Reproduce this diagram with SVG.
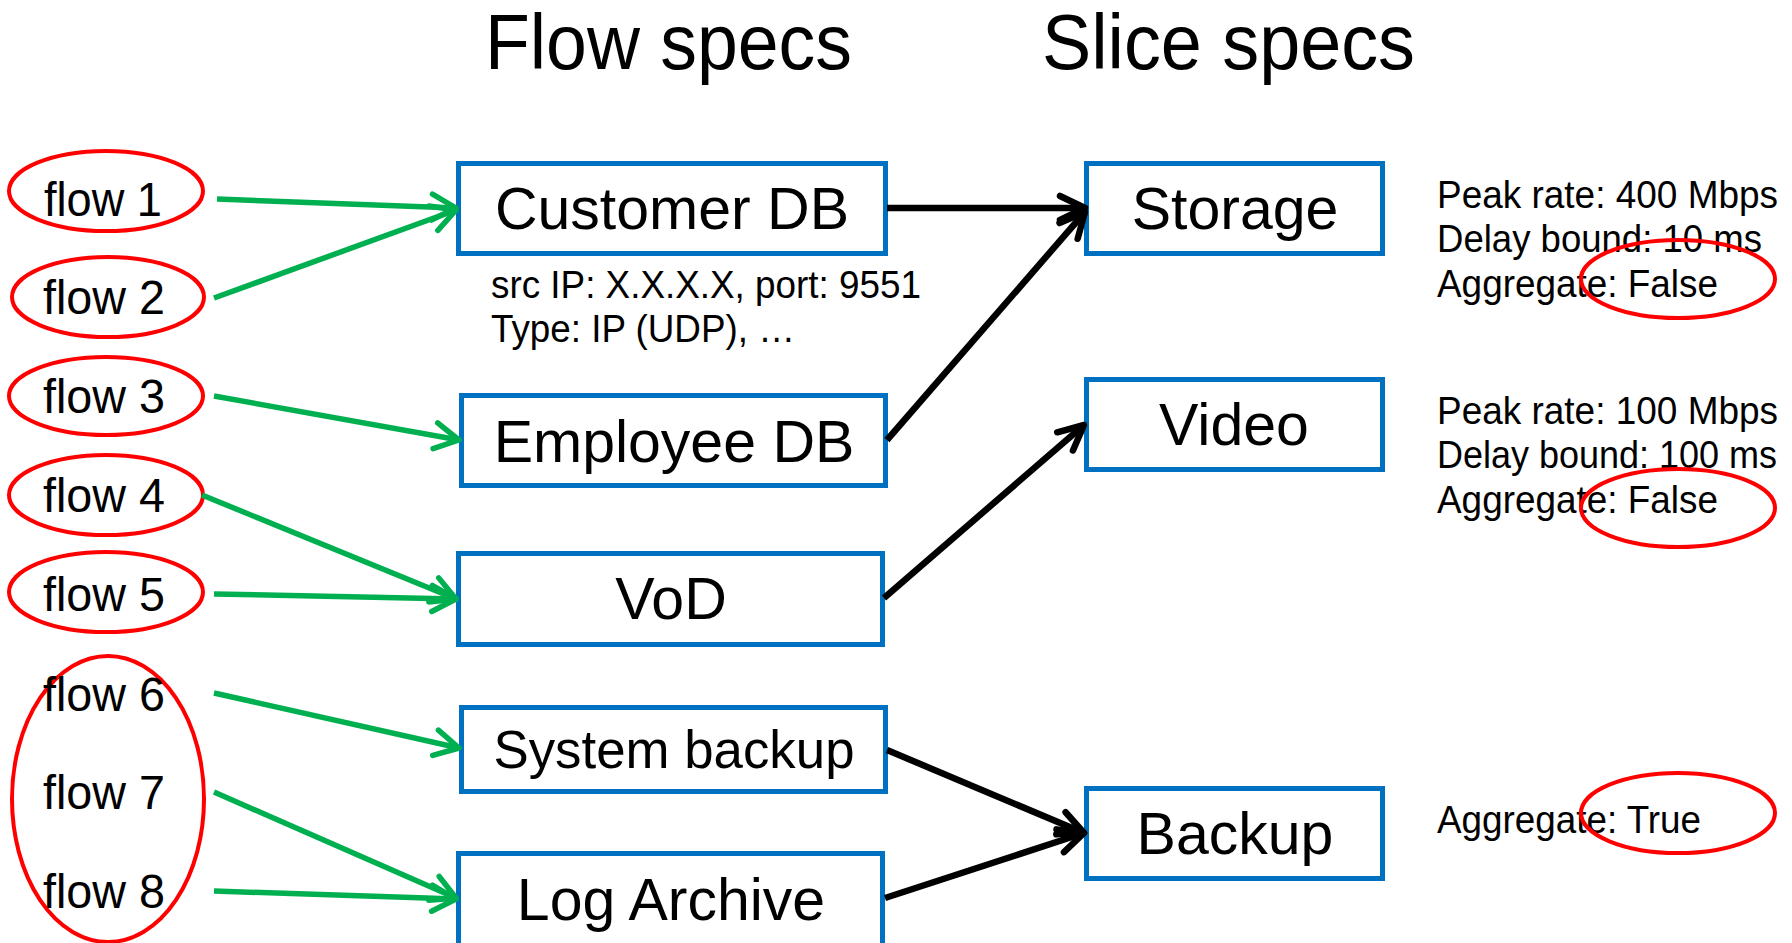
<svg xmlns="http://www.w3.org/2000/svg" width="1792" height="943" viewBox="0 0 1792 943">
<style>
text{font-family:"Liberation Sans",Arial,sans-serif;fill:#000}
.title{font-size:77px}
.flow{font-size:49px}
.box{fill:#fff;stroke:#0070C0;stroke-width:5}
.lbl{font-size:59px;text-anchor:middle}
.spec{font-size:38px}
.ring{fill:none;stroke:#FF0000;stroke-width:4}
.g{stroke:#00B050;stroke-width:5.5;fill:none;marker-end:url(#ag)}
.k{stroke:#000;stroke-width:6.5;fill:none;marker-end:url(#ak)}
</style>
<defs>
<marker id="ag" markerUnits="userSpaceOnUse" markerWidth="40" markerHeight="40" viewBox="-30 -20 40 40" refX="0" refY="0" orient="auto" overflow="visible">
<path d="M-24,-13 L0,0 L-24,13" fill="none" stroke="#00B050" stroke-width="5.5" stroke-linecap="round" stroke-linejoin="round"/>
</marker>
<marker id="ak" markerUnits="userSpaceOnUse" markerWidth="40" markerHeight="40" viewBox="-30 -20 40 40" refX="0" refY="0" orient="auto" overflow="visible">
<path d="M-25,-12 L0,0 L-25,12" fill="none" stroke="#000" stroke-width="6.5" stroke-linecap="round" stroke-linejoin="round"/>
</marker>
</defs>
<rect width="1792" height="943" fill="#fff"/>
<text class="title" x="485" y="69" textLength="367" lengthAdjust="spacingAndGlyphs">Flow specs</text>
<text class="title" x="1042" y="69" textLength="373" lengthAdjust="spacingAndGlyphs">Slice specs</text>

<g id="flow1"><ellipse class="ring" cx="106" cy="191" rx="97" ry="40"/><text class="flow" x="44" y="216" textLength="118" lengthAdjust="spacingAndGlyphs">flow 1</text></g>
<g id="flow2"><ellipse class="ring" cx="108" cy="297" rx="96" ry="40"/><text class="flow" x="43" y="314" textLength="122" lengthAdjust="spacingAndGlyphs">flow 2</text></g>
<g id="flow3"><ellipse class="ring" cx="106" cy="396" rx="97" ry="39"/><text class="flow" x="43" y="413" textLength="122" lengthAdjust="spacingAndGlyphs">flow 3</text></g>
<g id="flow4"><ellipse class="ring" cx="106" cy="495" rx="97" ry="40"/><text class="flow" x="43" y="512" textLength="122" lengthAdjust="spacingAndGlyphs">flow 4</text></g>
<g id="flow5"><ellipse class="ring" cx="106" cy="592" rx="97" ry="40"/><text class="flow" x="43" y="611" textLength="122" lengthAdjust="spacingAndGlyphs">flow 5</text></g>
<g id="flow678"><ellipse class="ring" cx="108" cy="799" rx="96" ry="143"/>
<text class="flow" x="43" y="711" textLength="122" lengthAdjust="spacingAndGlyphs">flow 6</text><text class="flow" x="43" y="809" textLength="122" lengthAdjust="spacingAndGlyphs">flow 7</text><text class="flow" x="43" y="908" textLength="122" lengthAdjust="spacingAndGlyphs">flow 8</text></g>

<g id="customerdb"><rect class="box" x="458.5" y="163.5" width="427" height="90"/><text class="lbl" x="672" y="229">Customer DB</text>
<text class="spec" x="491" y="298" textLength="430" lengthAdjust="spacingAndGlyphs">src IP: X.X.X.X, port: 9551</text><text class="spec" x="491" y="342" textLength="304" lengthAdjust="spacingAndGlyphs">Type: IP (UDP), …</text></g>
<g id="employeedb"><rect class="box" x="461.5" y="395.5" width="424" height="90"/><text class="lbl" x="674" y="462">Employee DB</text></g>
<g id="vod"><rect class="box" x="458.5" y="553.5" width="424" height="91"/><text class="lbl" x="671" y="619">VoD</text></g>
<g id="systembackup"><rect class="box" x="461.5" y="707.5" width="424" height="84"/><text class="lbl" x="674" y="768" style="font-size:54px" textLength="361" lengthAdjust="spacingAndGlyphs">System backup</text></g>
<g id="logarchive"><rect class="box" x="458.5" y="853.5" width="424" height="100"/><text class="lbl" x="671" y="920">Log Archive</text></g>

<g id="storage"><rect class="box" x="1086.5" y="163.5" width="296" height="90"/><text class="lbl" x="1235" y="229">Storage</text>
<text class="spec" x="1437" y="208" textLength="341" lengthAdjust="spacingAndGlyphs">Peak rate: 400 Mbps</text><text class="spec" x="1437" y="252" textLength="325" lengthAdjust="spacingAndGlyphs">Delay bound: 10 ms</text><text class="spec" x="1437" y="297" textLength="281" lengthAdjust="spacingAndGlyphs">Aggregate: False</text>
<ellipse class="ring" cx="1678" cy="279" rx="97" ry="39"/></g>
<g id="video"><rect class="box" x="1086.5" y="379.5" width="296" height="90"/><text class="lbl" x="1234" y="445">Video</text>
<text class="spec" x="1437" y="424" textLength="341" lengthAdjust="spacingAndGlyphs">Peak rate: 100 Mbps</text><text class="spec" x="1437" y="468" textLength="340" lengthAdjust="spacingAndGlyphs">Delay bound: 100 ms</text><text class="spec" x="1437" y="513" textLength="281" lengthAdjust="spacingAndGlyphs">Aggregate: False</text>
<ellipse class="ring" cx="1678" cy="508" rx="97" ry="39"/></g>
<g id="backup"><rect class="box" x="1086.5" y="788.5" width="296" height="90"/><text class="lbl" x="1235" y="854">Backup</text>
<text class="spec" x="1437" y="833" textLength="264" lengthAdjust="spacingAndGlyphs">Aggregate: True</text>
<ellipse class="ring" cx="1678" cy="813" rx="97" ry="40"/></g>

<g id="connectors">
<line class="g" x1="217" y1="199" x2="456" y2="208"/>
<line class="g" x1="214" y1="298" x2="456" y2="210"/>
<line class="g" x1="214" y1="396" x2="459" y2="440"/>
<line class="g" x1="202" y1="495" x2="456" y2="599"/>
<line class="g" x1="214" y1="594" x2="456" y2="599"/>
<line class="g" x1="214" y1="693" x2="459" y2="748"/>
<line class="g" x1="214" y1="792" x2="456" y2="898"/>
<line class="g" x1="214" y1="891" x2="456" y2="899"/>
<line class="k" x1="887" y1="208" x2="1085" y2="208"/>
<line class="k" x1="887" y1="440" x2="1085" y2="212"/>
<line class="k" x1="884" y1="598" x2="1084" y2="425"/>
<line class="k" x1="887" y1="750" x2="1084" y2="833"/>
<line class="k" x1="885" y1="898" x2="1084" y2="833"/>
</g>
</svg>
